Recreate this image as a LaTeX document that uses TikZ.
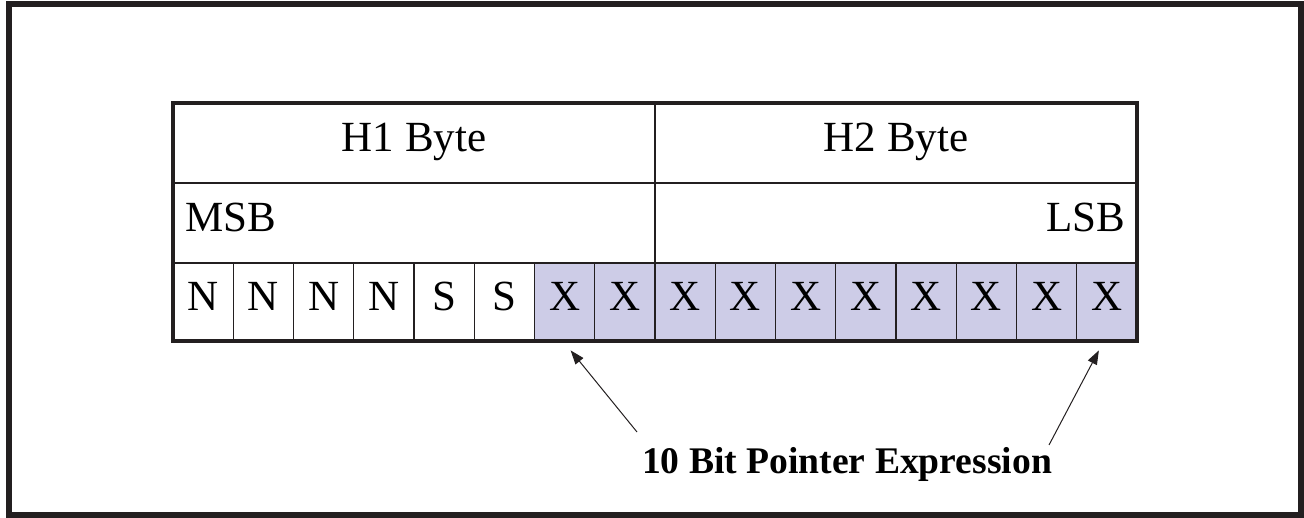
\documentclass[tikz,border=0pt]{standalone}
\usepackage{fontspec}
\setmainfont{Liberation Serif}
\definecolor{ptrfill}{RGB}{205,204,231}
\definecolor{inkline}{RGB}{35,31,32}
\usetikzlibrary{calc, positioning, arrows.meta}

\begin{document}
\begin{tikzpicture}[
    x=0.5pt, y=-0.5pt,
    bitcell/.style={minimum width=30.125pt, minimum height=39pt, inner sep=0pt,
      text height=14.5pt, text depth=6pt, font=\fontsize{21.5}{24}\selectfont},
    bytecell/.style={bitcell, minimum width=241pt, minimum height=40pt},
    ptr/.style={fill=ptrfill},
    grid/.style={draw=inkline, line width=0.65pt},
    pointer/.style={draw=inkline, line width=0.5pt, -{Triangle[length=7pt, width=5pt]}},
  ]
    \useasboundingbox (0,0) rectangle (1304,518);
    \draw[inkline, line width=2.6pt] (9,4) rectangle (1301,515);

    % header rows
    \node[bytecell] (h1) at (414,143) {H1 Byte};
    \node[bytecell] (h2) at (896,143) {H2 Byte};
    \node[bytecell, text width=229pt, align=left] (msb) at (414,223) {MSB};
    \node[bytecell, text width=229pt, align=right] (lsb) at (896,223) {LSB};

    % bit row
    \foreach \lbl [count=\i] in {N,N,N,N,S,S,X,X,X,X,X,X,X,X,X,X} {
      \ifnum\i>6
        \fill[ptrfill] ({173+(\i-1)*60.25},263) rectangle ({173+\i*60.25},341);
      \fi
      \node[bitcell] (b\i) at ({173+(\i-0.5)*60.25},302) {\lbl};
    }

    % grid lines
    \draw[grid] (173,183) -- (1137,183);
    \draw[grid] (173,263) -- (1137,263);
    \draw[grid] (655,103) -- (655,263);
    \foreach \i in {1,...,15}
      \draw[grid] ({173+\i*60.25},263) -- ({173+\i*60.25},341);
    \draw[inkline, line width=1.6pt] (173,103) rectangle (1137,341);

    % label and pointers
    \node[font=\bfseries\fontsize{18.8}{22}\selectfont, anchor=base] (lbl) at (847,473)
      {10 Bit Pointer Expression};
    \coordinate (t1) at (637,432);
    \coordinate (t2) at (1049,445);
    \draw[pointer] (t1) -- ($(b7.south)+(6,9)$);
    \draw[pointer] (t2) -- ($(b16.south)+(-8,9)$);
\end{tikzpicture}
\end{document}
